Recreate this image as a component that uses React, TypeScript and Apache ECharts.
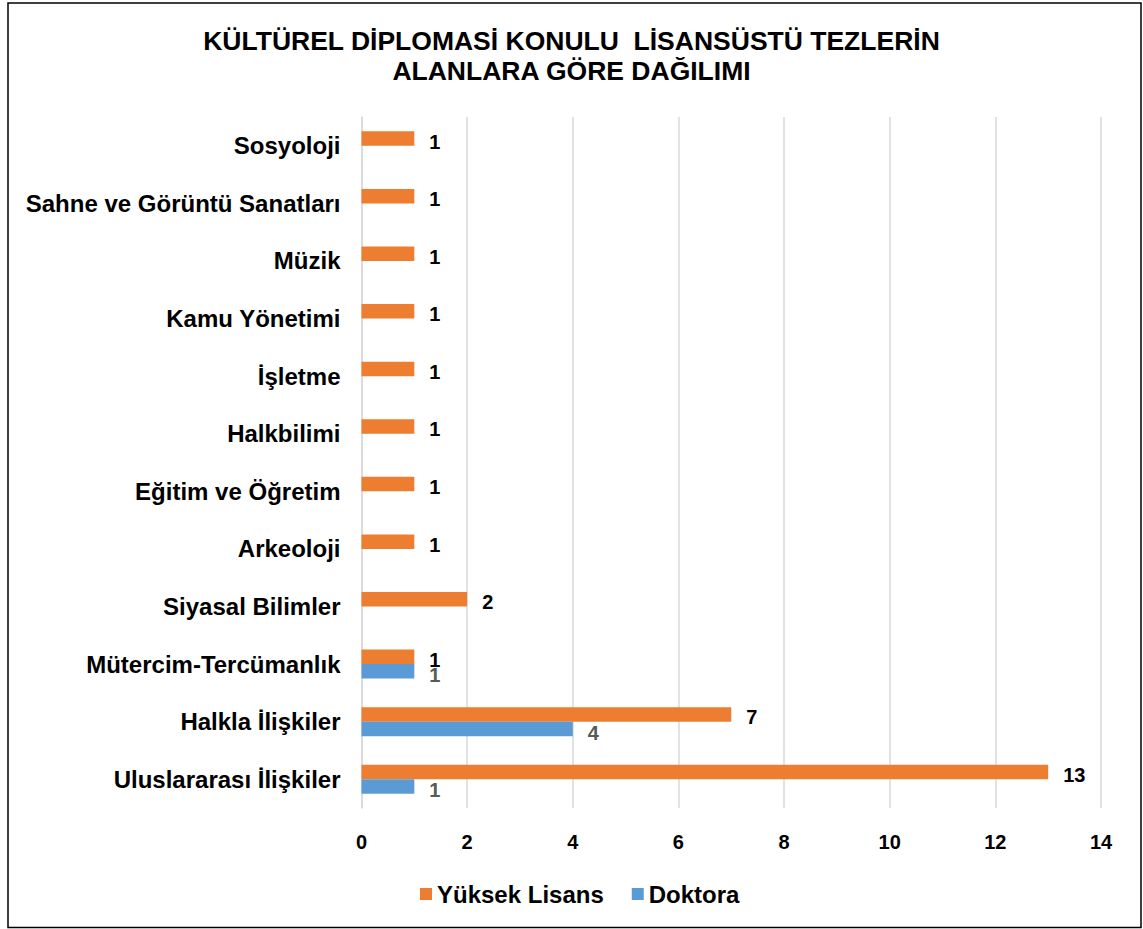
import React, { useEffect, useRef } from "react";
import * as echarts from "echarts";

const categories = [
  "Uluslararası İlişkiler",
  "Halkla İlişkiler",
  "Mütercim-Tercümanlık",
  "Siyasal Bilimler",
  "Arkeoloji",
  "Eğitim ve Öğretim",
  "Halkbilimi",
  "İşletme",
  "Kamu Yönetimi",
  "Müzik",
  "Sahne ve Görüntü Sanatları",
  "Sosyoloji",
];
const yuksekLisans = [13, 7, 1, 2, 1, 1, 1, 1, 1, 1, 1, 1];
const doktora: (number | null)[] = [1, 4, 1, null, null, null, null, null, null, null, null, null];
const seriesNames = ["Yüksek Lisans", "Doktora"];
const titleText = "KÜLTÜREL DİPLOMASİ KONULU  LİSANSÜSTÜ TEZLERİN\nALANLARA GÖRE DAĞILIMI";

const FONT = "'Liberation Sans', Arial, sans-serif";

export default function App() {
  const ref = useRef<HTMLDivElement>(null);
  useEffect(() => {
    if (!ref.current) return;
    const chart = echarts.init(ref.current, null, { renderer: "svg" });
    chart.setOption({
      animation: false,
      backgroundColor: "#ffffff",
      textStyle: { fontFamily: FONT },
      title: {
        text: titleText,
        left: "center",
        top: 21,
        textStyle: {
          fontFamily: FONT,
          fontSize: 26.5,
          fontWeight: "bold",
          color: "#000000",
          lineHeight: 30,
        },
      },
      graphic: [
        {
          type: "rect",
          shape: { x: 8, y: 3, width: 1133, height: 924.5 },
          style: { fill: "none", stroke: "#000000", lineWidth: 1.5 },
          silent: true,
        },
      ],
      legend: {
        data: seriesNames,
        left: 415,
        top: 877,
        itemWidth: 12,
        itemHeight: 12,
        itemGap: 28,
        icon: "rect",
        textStyle: { fontFamily: FONT, fontSize: 24, fontWeight: "bold", color: "#000000" },
      },
      grid: { left: 361.5, right: 42, top: 117, bottom: 121, containLabel: false },
      xAxis: {
        type: "value",
        min: 0,
        max: 14,
        interval: 2,
        axisLine: { show: false },
        axisTick: { show: false },
        splitLine: { show: true, lineStyle: { color: "#D9D9D9", width: 1.5 } },
        axisLabel: {
          margin: 24,
          fontFamily: FONT,
          fontSize: 20,
          fontWeight: "bold",
          color: "#000000",
        },
      },
      yAxis: {
        type: "category",
        data: categories,
        axisLine: { show: true, lineStyle: { color: "#D9D9D9", width: 1.5 } },
        axisTick: { show: false },
        axisLabel: {
          margin: 21,
          fontFamily: FONT,
          fontSize: 24,
          fontWeight: "bold",
          color: "#000000",
        },
      },
      series: [
        {
          name: seriesNames[0],
          type: "bar",
          data: yuksekLisans,
          barWidth: 14.5,
          barGap: "0%",
          itemStyle: { color: "#ED7D31" },
          label: {
            show: true,
            position: "right",
            distance: 15,
            offset: [0, 3],
            fontFamily: FONT,
            fontSize: 20,
            fontWeight: "bold",
            color: "#000000",
          },
        },
        {
          name: seriesNames[1],
          type: "bar",
          data: doktora,
          barWidth: 14.5,
          barGap: "0%",
          itemStyle: { color: "#5B9BD5" },
          label: {
            show: true,
            position: "right",
            distance: 15,
            offset: [0, 4],
            fontFamily: FONT,
            fontSize: 20,
            fontWeight: "bold",
            color: "#595959",
          },
        },
      ],
    });
    return () => chart.dispose();
  }, []);
  return (
    <div
      ref={ref}
      style={{ position: "fixed", left: 0, top: 0, width: 1143, height: 929 }}
    />
  );
}
